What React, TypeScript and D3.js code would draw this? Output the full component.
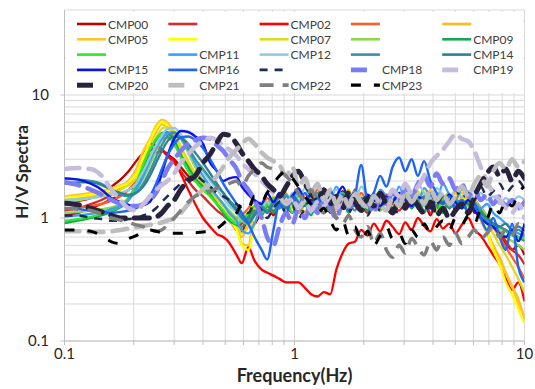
import React from 'react';
import * as d3 from 'd3';

// frequency samples shared by all stations (Hz)
const FREQ = [0.1, 0.115, 0.13, 0.145, 0.16, 0.175, 0.19, 0.205, 0.22, 0.235, 0.25, 0.265, 0.28, 0.3, 0.32, 0.345, 0.37, 0.4, 0.43, 0.46,
  0.49, 0.52, 0.56, 0.59, 0.63, 0.67, 0.72, 0.76, 0.81, 0.86, 0.92, 0.98, 1.04, 1.11, 1.18, 1.26, 1.34, 1.43, 1.52, 1.62,
  1.72, 1.83, 1.95, 2.08, 2.21, 2.36, 2.51, 2.67, 2.85, 3.03, 3.23, 3.44, 3.66, 3.9, 4.15, 4.42, 4.71, 5.01, 5.34, 5.69,
  6.06, 6.45, 6.87, 7.31, 7.79, 8.29, 8.83, 9.4, 10];

// H/V ratios per station
const CMP00 = [1.3, 1.38, 1.45, 1.6, 1.8, 2.05, 2.4, 2.9, 3.4, 4.0, 3.9, 3.6, 3.3, 3.0, 2.6, 2.2, 2.0, 1.85, 1.6, 1.4,
  1.2, 1.0, 0.8, 0.78, 1.0, 0.9, 1.15, 1.3,
  1.05, 1.4, 1.2, 1.55, 1.1, 1.35, 1.6, 1.2, 1.45, 1.1, 1.3, 1.65, 1.25, 1.5, 1.15, 1.4, 1.2, 1.55, 1.3, 1.1,
  1.45, 1.25, 1.6, 1.2, 1.35, 1.05, 1.4, 1.25, 1.5, 1.15, 1.3, 1.45, 1.1,
  1.2, 1.0, 0.85, 0.75, 0.62, 0.55, 0.6, 0.5];
const CMP01 = [1.15, 1.2, 1.3, 1.4, 1.55, 1.75, 2.0, 2.4, 2.9, 3.5, 3.7, 3.6, 3.2, 2.8, 2.4, 2.0, 1.7, 1.5, 1.3, 1.15,
  1.05, 0.95, 0.85, 0.9, 1.05, 1.2, 1.1, 1.3,
  1.15, 1.5, 1.25, 1.1, 1.4, 1.3, 1.6, 1.2, 1.35, 1.5, 1.15, 1.4, 1.25, 1.7, 1.3, 1.1, 1.45, 1.2, 1.55, 1.3,
  1.15, 1.4, 1.6, 1.25, 1.45, 1.1, 1.35, 1.5, 1.2, 1.4, 1.3, 1.15, 1.35,
  1.1, 0.95, 0.85, 0.75, 0.65, 0.55, 0.5, 0.42];
const CMP02 = [1.05, 1.1, 1.2, 1.3, 1.42, 1.55, 1.7, 1.85, 2.3, 3.2, 3.4, 3.5, 3.2, 2.9, 2.3, 1.7, 1.3, 1.0, 0.85, 0.74,
  0.7, 0.63, 0.5, 0.43, 0.58, 0.45, 0.38, 0.36, 0.34, 0.32, 0.3, 0.3, 0.3, 0.27, 0.24, 0.23, 0.25, 0.24, 0.38, 0.52,
  0.62, 0.64, 0.8, 0.72, 0.9, 0.78, 0.95, 0.85, 0.74, 0.92, 0.8, 1.0, 0.86, 0.78, 0.98, 0.82, 0.9, 0.75, 0.88, 1.0,
  0.8, 0.72, 0.6, 0.5, 0.42, 0.32, 0.26, 0.3, 0.21];
const CMP03 = [1.2, 1.22, 1.25, 1.3, 1.38, 1.5, 1.7, 2.0, 2.5, 3.1, 3.8, 4.3, 4.5, 4.2, 3.5, 2.8, 2.3, 1.9, 1.6, 1.4,
  1.25, 1.1, 1.0, 1.05, 1.2, 1.35, 1.2, 1.45,
  1.3, 1.6, 1.25, 1.45, 1.15, 1.5, 1.35, 1.7, 1.3, 1.45, 1.2, 1.55, 1.4, 1.25, 1.6, 1.35, 1.5, 1.2, 1.4, 1.65,
  1.3, 1.5, 1.25, 1.45, 1.6, 1.3, 1.4, 1.2, 1.55, 1.35, 1.5, 1.25, 1.4,
  1.2, 1.0, 0.85, 0.7, 0.58, 0.48, 0.4, 0.32];
const CMP04 = [1.4, 1.45, 1.5, 1.55, 1.6, 1.7, 1.9, 2.3, 3.0, 4.0, 5.0, 5.8, 5.5, 4.6, 3.6, 2.8, 2.2, 1.8, 1.5, 1.3,
  1.1, 0.95, 0.8, 0.7, 0.9, 1.1, 1.3, 1.15,
  1.4, 1.2, 1.55, 1.3, 1.1, 1.45, 1.25, 1.6, 1.35, 1.15, 1.5, 1.3, 1.7, 1.25, 1.45, 1.2, 1.6, 1.35, 1.5, 1.15,
  1.4, 1.3, 1.65, 1.2, 1.45, 1.35, 1.55, 1.25, 1.4, 1.6, 1.3, 1.45, 1.2,
  1.0, 0.8, 0.6, 0.48, 0.36, 0.28, 0.22, 0.15];
const CMP05 = [1.5, 1.55, 1.6, 1.65, 1.75, 1.85, 2.0, 2.5, 3.5, 4.4, 5.6, 6.3, 6.0, 5.0, 3.8, 2.8, 2.1, 1.8, 1.6, 1.45,
  1.3, 1.1, 0.85, 0.62, 0.6, 1.2, 1.35, 1.15,
  1.45, 1.25, 1.6, 1.2, 1.4, 1.1, 1.5, 1.3, 1.75, 1.35, 1.15, 1.5, 1.25, 1.6, 1.4, 1.2, 1.55, 1.3, 1.45, 1.65,
  1.25, 1.4, 1.2, 1.55, 1.35, 1.7, 1.3, 1.5, 1.25, 1.45, 1.6, 1.35, 1.2,
  0.95, 0.75, 0.55, 0.45, 0.35, 0.28, 0.2, 0.16];
const CMP06 = [1.45, 1.5, 1.55, 1.6, 1.7, 1.8, 1.95, 2.3, 3.1, 4.2, 5.3, 6.0, 5.6, 4.6, 3.5, 2.6, 2.0, 1.7, 1.5, 1.35,
  1.2, 1.0, 0.8, 0.6, 0.55, 0.9, 1.25, 1.1,
  1.35, 1.2, 1.5, 1.3, 1.15, 1.45, 1.6, 1.3, 1.4, 1.2, 1.55, 1.35, 1.25, 1.65, 1.4, 1.5, 1.2, 1.45, 1.3, 1.6,
  1.35, 1.25, 1.5, 1.4, 1.7, 1.3, 1.45, 1.2, 1.5, 1.35, 1.55, 1.25, 1.4,
  1.1, 0.8, 0.55, 0.42, 0.3, 0.24, 0.18, 0.14];
const CMP07 = [1.35, 1.4, 1.45, 1.5, 1.6, 1.7, 1.85, 2.1, 2.7, 3.5, 4.5, 5.3, 5.5, 4.8, 3.8, 2.9, 2.3, 1.9, 1.6, 1.4,
  1.25, 1.1, 0.9, 0.75, 0.85, 1.1, 1.3, 1.2,
  1.5, 1.3, 1.4, 1.2, 1.6, 1.35, 1.15, 1.45, 1.3, 1.55, 1.25, 1.4, 1.7, 1.3, 1.5, 1.2, 1.45, 1.6, 1.35, 1.25,
  1.5, 1.4, 1.3, 1.65, 1.35, 1.5, 1.2, 1.45, 1.6, 1.3, 1.4, 1.55, 1.3,
  1.1, 0.9, 0.75, 0.6, 0.5, 0.4, 0.32, 0.25];
const CMP08 = [1.1, 1.12, 1.15, 1.18, 1.22, 1.3, 1.45, 1.7, 2.1, 2.7, 3.5, 4.3, 4.9, 5.0, 4.4, 3.4, 2.6, 2.0, 1.7, 1.5,
  1.3, 1.15, 1.0, 0.95, 1.1, 1.25, 1.15, 1.35,
  1.2, 1.45, 1.3, 1.55, 1.25, 1.4, 1.15, 1.5, 1.35, 1.6, 1.3, 1.45, 1.2, 1.5, 1.4, 1.25, 1.55, 1.3, 1.45, 1.2,
  1.4, 1.6, 1.3, 1.5, 1.25, 1.45, 1.35, 1.2, 1.5, 1.3, 1.4, 1.25, 1.35,
  1.2, 1.05, 0.9, 0.8, 0.7, 0.65, 0.6, 0.55];
const CMP09 = [0.91, 0.95, 1.0, 1.05, 1.12, 1.22, 1.4, 1.8, 2.6, 3.5, 4.3, 4.9, 5.0, 4.3, 3.3, 2.6, 2.1, 1.8, 1.55, 1.3,
  1.1, 0.95, 0.88, 0.85, 1.0, 1.15, 1.05, 1.25,
  1.1, 1.35, 1.2, 1.5, 1.15, 1.3, 1.05, 1.4, 1.25, 1.55, 1.2, 1.35, 1.1, 1.45, 1.3, 1.15, 1.5, 1.25, 1.4, 1.1,
  1.3, 1.5, 1.2, 1.4, 1.15, 1.35, 1.25, 1.1, 1.4, 1.2, 1.35, 1.15, 1.3,
  1.15, 1.0, 0.9, 0.85, 0.8, 0.75, 0.7, 0.65];
const CMP10 = [0.95, 0.98, 1.02, 1.08, 1.15, 1.25, 1.45, 1.9, 2.7, 3.6, 4.4, 4.8, 4.7, 4.0, 3.1, 2.4, 2.0, 1.7, 1.5, 1.3,
  1.15, 1.0, 0.9, 0.95, 1.1, 1.25, 1.1, 1.3,
  1.45, 1.2, 1.35, 1.1, 1.5, 1.3, 1.2, 1.45, 1.35, 1.15, 1.4, 1.6, 1.25, 1.4, 1.2, 1.5, 1.3, 1.15, 1.45, 1.35,
  1.55, 1.2, 1.4, 1.25, 1.5, 1.3, 1.1, 1.4, 1.25, 1.45, 1.2, 1.35, 1.25,
  1.1, 0.95, 0.9, 0.85, 0.78, 0.72, 0.7, 0.68];
const CMP11 = [1.02, 1.05, 1.08, 1.12, 1.18, 1.25, 1.4, 1.7, 2.2, 2.9, 3.7, 4.4, 4.9, 5.0, 4.5, 3.6, 2.8, 2.2, 1.8, 1.5,
  1.3, 1.1, 0.95, 0.8, 0.75, 0.9, 1.2, 1.1,
  1.4, 1.25, 1.55, 1.3, 1.7, 1.35, 1.5, 1.2, 1.6, 1.4, 1.8, 1.45, 1.3, 1.65, 1.4, 1.55, 1.25, 1.7, 1.5, 1.35,
  1.8, 1.45, 1.6, 1.3, 1.75, 1.5, 1.4, 1.9, 1.55, 1.4, 1.7, 1.5, 1.35,
  1.2, 1.3, 1.1, 1.0, 0.9, 0.8, 0.75, 0.7];
const CMP12 = [1.4, 1.42, 1.45, 1.5, 1.55, 1.6, 1.7, 1.9, 2.4, 3.1, 3.9, 4.7, 5.3, 5.4, 4.8, 3.9, 3.0, 2.4, 2.0, 1.7,
  1.45, 1.25, 1.1, 0.95, 0.9, 1.05, 1.2, 1.35,
  1.2, 1.45, 1.3, 1.6, 1.4, 1.75, 1.35, 1.55, 1.3, 1.5, 1.7, 1.4, 1.6, 1.35, 1.8, 1.5, 1.4, 1.65, 1.45, 1.55,
  1.35, 1.7, 1.5, 1.9, 1.6, 1.45, 1.75, 1.55, 1.4, 1.7, 1.5, 1.65, 1.45,
  1.6, 1.4, 1.5, 1.3, 1.45, 1.35, 1.5, 1.4];
const CMP13 = [2.1, 2.05, 2.0, 1.9, 1.7, 1.55, 1.5, 1.6, 1.9, 2.4, 3.1, 3.9, 4.6, 4.9, 4.5, 3.7, 3.0, 2.5, 2.1, 1.8,
  1.6, 1.4, 1.2, 1.05, 0.95, 1.1, 1.25, 1.15,
  1.35, 1.2, 1.5, 1.3, 1.15, 1.45, 1.25, 1.6, 1.3, 1.4, 1.2, 1.5, 1.35, 1.15, 1.45, 1.3, 1.55, 1.25, 1.4, 1.2,
  1.35, 1.5, 1.25, 1.45, 1.1, 1.35, 1.25, 1.5, 1.2, 1.4, 1.3, 1.15, 1.25,
  1.05, 0.95, 0.9, 0.85, 0.8, 0.75, 0.8, 0.72];
const CMP14 = [1.9, 1.95, 1.95, 1.85, 1.7, 1.6, 1.55, 1.6, 1.8, 2.2, 2.8, 3.5, 4.2, 4.6, 4.5, 4.0, 3.4, 2.8, 2.3, 1.9,
  1.6, 1.35, 1.15, 1.0, 0.9, 1.05, 1.2, 1.1,
  1.3, 1.45, 1.2, 1.55, 1.35, 1.25, 1.5, 1.3, 1.65, 1.2, 1.4, 1.3, 1.55, 1.25, 1.45, 1.35, 1.2, 1.5, 1.3, 1.4,
  1.6, 1.25, 1.45, 1.3, 1.5, 1.2, 1.4, 1.35, 1.55, 1.25, 1.4, 1.3, 1.2,
  1.1, 1.0, 0.9, 0.85, 0.9, 0.8, 0.85, 0.78];
const CMP15 = [2.1, 2.05, 1.9, 1.7, 1.45, 1.35, 1.28, 1.25, 1.27, 1.35, 1.7, 2.3, 3.2, 4.4, 5.1, 5.0, 4.6, 4.0, 2.8, 2.4,
  2.0, 2.1, 2.15, 1.8, 1.55, 1.4, 1.3, 1.6,
  1.35, 1.6, 1.3, 1.5, 1.75, 1.4, 1.55, 1.3, 1.65, 1.4, 1.5, 1.8, 1.45, 1.6, 1.35, 1.55, 1.4, 1.25, 1.5, 1.35,
  1.6, 1.4, 1.25, 1.5, 1.35, 1.2, 1.45, 1.3, 1.55, 1.35, 1.2, 1.4, 1.15,
  1.0, 0.9, 0.85, 0.75, 0.7, 0.8, 0.65, 0.9];
const CMP16 = [1.2, 1.18, 1.15, 1.12, 1.1, 1.12, 1.15, 1.2, 1.3, 1.5, 1.9, 2.5, 3.2, 4.0, 4.5, 4.6, 4.3, 3.7, 3.0, 2.4,
  1.9, 1.6, 1.3, 1.1, 0.9, 0.7, 0.55, 0.46,
  0.8, 1.3, 1.1, 1.5, 1.25, 1.6, 1.3, 1.45, 1.2, 1.7, 1.3, 1.55,
  1.15, 1.5, 2.7, 1.4, 1.6, 2.2, 1.8, 2.6, 3.1, 2.4, 3.0, 2.2, 2.9, 2.0, 1.6, 1.3, 1.5, 1.2, 1.4, 1.1,
  1.3, 1.0, 0.8, 1.0, 0.7, 0.55, 0.9, 0.4, 0.3];
const CMP17 = [1.05, 1.05, 1.0, 0.98, 0.95, 0.95, 0.98, 1.0, 1.05, 1.1, 1.2, 1.35, 1.5, 1.7, 1.9, 2.1, 2.2, 2.0, 1.8, 1.6,
  1.5, 1.4, 1.3, 1.2, 1.1, 1.3, 1.15, 1.0, 1.2, 1.35, 1.1, 1.25, 1.0, 1.2, 1.4, 1.1, 1.3, 1.15, 1.0, 1.25,
  1.1, 1.35, 1.2, 1.05, 1.3, 1.15, 1.4, 1.2, 1.1, 1.3, 1.5, 1.25, 1.4, 1.6, 1.3, 1.5, 1.35, 1.7, 1.45, 1.6,
  1.4, 1.8, 1.5, 1.65, 1.9, 1.6, 1.8, 2.0, 1.7];
const CMP18 = [1.95, 1.85, 1.7, 1.55, 1.4, 1.3, 1.25, 1.25, 1.3, 1.4, 1.6, 2.0, 2.5, 3.0, 3.5, 4.0, 4.3, 4.5, 4.4, 3.9,
  3.5, 3.0, 2.5, 2.0, 1.7, 1.4, 1.0, 0.7, 0.6, 0.85, 1.1, 0.9, 1.2, 1.0, 1.3, 1.1, 1.4, 1.2, 1.0, 1.3,
  1.15, 1.45, 1.2, 1.35, 1.1, 1.5, 1.3, 1.6, 1.4, 1.75, 1.5, 1.9, 2.2, 1.8, 2.3, 1.9, 2.1, 1.7, 1.9, 1.5,
  1.7, 1.4, 1.55, 1.3, 1.5, 1.25, 1.4, 1.2, 1.35];
const CMP19 = [2.5, 2.55, 2.5, 2.2, 1.7, 1.4, 1.2, 1.15, 1.3, 1.5, 1.7, 1.85, 2.0, 2.3, 2.8, 3.3, 3.8, 4.2, 4.5, 4.3,
  3.9, 3.6, 3.2, 2.8, 2.5, 2.3, 2.0, 1.8, 1.6, 1.5, 1.3, 1.45, 1.2, 1.4, 1.15, 1.35, 1.25, 1.5, 1.2, 1.4,
  1.3, 1.55, 1.25, 1.45, 1.3, 1.6, 1.35, 1.7, 1.5, 1.9, 1.6, 1.8, 2.2, 2.8, 3.2, 3.6, 4.2, 4.8, 4.4, 4.2,
  3.5, 2.6, 2.0, 1.6, 1.4, 1.2, 1.1, 1.3, 1.0];
const CMP20 = [1.32, 1.28, 1.2, 1.12, 1.05, 1.0, 1.0, 1.0, 1.0, 1.0, 1.02, 1.1, 1.25, 1.4, 1.7, 2.0, 2.2, 2.8, 3.3, 4.1,
  4.8, 4.7, 4.0, 3.4, 2.9, 2.5, 2.2, 1.9, 1.7, 1.5, 1.8, 2.2, 2.4, 1.9, 1.6, 1.4, 1.7, 1.3, 1.5, 1.2,
  1.6, 1.35, 1.15, 1.45, 1.25, 1.6, 1.3, 1.1, 1.4, 1.2, 1.5, 1.25, 1.1, 1.35, 1.05, 1.2, 1.0, 1.15, 1.3, 1.1,
  1.5, 1.9, 2.3, 2.6, 2.2, 2.5, 2.0, 2.4, 2.1];
const CMP21 = [0.78, 0.78, 0.77, 0.77, 0.78, 0.8, 0.82, 0.84, 0.86, 0.88, 0.9, 0.92, 0.95, 1.0, 1.1, 1.3, 1.5, 1.7, 1.9, 2.2,
  2.6, 3.1, 3.6, 4.0, 4.4, 4.0, 3.4, 3.1, 2.9, 2.7, 2.2, 2.6, 1.8, 2.1, 1.6, 1.9, 1.4, 1.7, 1.3, 1.55,
  1.25, 1.6, 1.35, 1.2, 1.5, 1.3, 1.15, 1.45, 1.25, 1.6, 1.35, 1.55, 1.3, 1.7, 1.4, 1.6, 1.3, 1.5, 1.8, 1.5,
  1.9, 2.2, 1.8, 2.4, 2.8, 2.5, 3.0, 2.6, 2.9];
const CMP22 = [1.2, 1.18, 1.15, 1.08, 1.0, 0.96, 0.92, 0.88, 0.85, 0.8, 0.78, 0.8, 0.88, 1.0, 1.15, 1.35, 1.5, 1.6, 1.65, 1.75,
  1.8, 1.9, 2.0, 1.8, 2.2, 2.5, 2.8, 2.6, 2.5, 2.4, 2.2, 1.9, 1.6, 1.4, 1.7, 1.3, 1.1, 1.3, 1.0, 0.9,
  1.05, 0.8, 0.7, 0.85, 0.62, 0.75, 0.55, 0.48, 0.6, 0.52, 0.68, 0.58, 0.5, 0.65, 0.55, 0.7, 0.6, 0.75, 0.62, 0.7,
  0.8, 0.68, 0.75, 0.85, 0.7, 0.8, 0.72, 0.9, 0.78];
const CMP23 = [0.8, 0.8, 0.78, 0.72, 0.64, 0.62, 0.68, 0.72, 0.78, 0.8, 0.78, 0.76, 0.75, 0.75, 0.75, 0.76, 0.76, 0.77, 0.78, 0.82,
  0.9, 1.0, 1.1, 1.3, 1.2, 1.5, 1.35, 1.6, 1.9, 2.2, 2.4, 2.1, 1.8, 1.5, 1.3, 1.1, 1.2, 0.95, 0.8, 0.95,
  0.72, 0.85, 0.65, 0.78, 0.6, 0.72, 0.85, 0.68, 0.75, 0.62, 0.8, 0.7, 0.9, 0.75, 0.85, 0.95, 0.8, 1.0, 0.88, 1.05,
  0.9, 1.15, 1.0, 1.3, 1.1, 1.4, 1.25, 1.6, 1.8];

const X_LABELS = [0.1, 1, 10];
const Y_LABELS = [0.1, 1, 10];

// series styling; label=false where the original legend shows no text
const SERIES = [
  {name: 'CMP00', values: CMP00, color: '#C00000', width: 2.3, label: true},
  {name: 'CMP01', values: CMP01, color: '#D42A2A', width: 2.3, label: false},
  {name: 'CMP02', values: CMP02, color: '#FF0000', width: 2.3, label: true},
  {name: 'CMP03', values: CMP03, color: '#FF5B24', width: 2.3, label: false},
  {name: 'CMP04', values: CMP04, color: '#FFBA1A', width: 2.3, label: false},
  {name: 'CMP05', values: CMP05, color: '#FFC52E', width: 2.3, label: true},
  {name: 'CMP06', values: CMP06, color: '#FFFF00', width: 2.3, label: false},
  {name: 'CMP07', values: CMP07, color: '#DCDC1E', width: 2.3, label: true},
  {name: 'CMP08', values: CMP08, color: '#8ED64A', width: 2.3, label: false},
  {name: 'CMP09', values: CMP09, color: '#14A850', width: 2.3, label: true},
  {name: 'CMP10', values: CMP10, color: '#2EE62E', width: 2.3, label: false},
  {name: 'CMP11', values: CMP11, color: '#3A9EFF', width: 2.3, label: true},
  {name: 'CMP12', values: CMP12, color: '#8FCAE0', width: 2.3, label: true},
  {name: 'CMP13', values: CMP13, color: '#3A8FA0', width: 2.3, label: false},
  {name: 'CMP14', values: CMP14, color: '#2C8193', width: 2.3, label: true},
  {name: 'CMP15', values: CMP15, color: '#0A14E6', width: 2.4, label: true},
  {name: 'CMP16', values: CMP16, color: '#1E64F5', width: 2.4, label: true},
  {name: 'CMP17', values: CMP17, color: '#1F2A55', width: 2.5, dash: '8,7', label: false},
  {name: 'CMP18', values: CMP18, color: '#7B7BF5', width: 4.5, dash: '15,9', legendDash: '16,30', label: true},
  {name: 'CMP19', values: CMP19, color: '#C6BDDC', width: 4.5, dash: '15,9', legendDash: '16,30', label: true},
  {name: 'CMP20', values: CMP20, color: '#28223C', width: 5, dash: '15,9', legendDash: '16,30', label: true},
  {name: 'CMP21', values: CMP21, color: '#BDBDBD', width: 4.5, dash: '15,9', legendDash: '16,30', label: true},
  {name: 'CMP22', values: CMP22, color: '#7F7F7F', width: 3.5, dash: '14,9', label: true},
  {name: 'CMP23', values: CMP23, color: '#000000', width: 3, dash: '10,13', label: true},
];

const W = 535;
const H = 389;
const left = 64.5, right = 524.5, top = 10, bottom = 341;

const App = () => {
  const x = d3.scaleLog().domain([0.1, 10]).range([left, right]);
  const y = d3.scaleLog().domain([0.1, 10]).range([bottom, 95]);

  const xGrid = x.ticks();
  // gridlines continue above 10 up to the plot top (hidden mostly by legend)
  const yGrid = d3.scaleLog().domain([0.1, 40]).ticks();

  const line = d3.line<number>()
    .x((d, i) => x(FREQ[i]))
    .y(d => y(d))
    .curve(d3.curveMonotoneX);

  const font = 'Lato, "Open Sans", sans-serif';

  return (
    <svg width={W} height={H} style={{position: 'absolute', left: 0, top: 0, background: '#fff'}}>
      <defs>
        <clipPath id='plot-clip'>
          <rect x={left} y={top} width={right - left} height={bottom - top}/>
        </clipPath>
      </defs>
      <rect x={0} y={0} width={W} height={H} fill='#fff'/>

      {/* grid */}
      <g stroke='#D9D9D9' strokeWidth={1}>
        {yGrid.map(v => (
          <line key={'gy' + v} x1={left} x2={right} y1={y(v)} y2={y(v)}/>
        ))}
        {xGrid.map(v => (
          <line key={'gx' + v} x1={x(v)} x2={x(v)} y1={top} y2={bottom}/>
        ))}
        <line x1={left} x2={right} y1={top} y2={top}/>
      </g>

      {/* axes */}
      <g stroke='#BFBFBF' strokeWidth={1}>
        <line x1={left} x2={left} y1={top} y2={bottom}/>
        <line x1={left} x2={right} y1={bottom} y2={bottom}/>
        {xGrid.map(v => (
          <line key={'tx' + v} x1={x(v)} x2={x(v)} y1={bottom} y2={bottom + 4}/>
        ))}
        {Y_LABELS.map(v => (
          <line key={'ty' + v} x1={left - 4} x2={left} y1={y(v)} y2={y(v)}/>
        ))}
      </g>

      {/* series */}
      <g clipPath='url(#plot-clip)' fill='none'>
        {SERIES.map(s => (
          <path key={s.name} d={line(s.values) || ''} stroke={s.color} strokeWidth={s.width}
            strokeDasharray={s.dash} strokeLinejoin='round'
            strokeLinecap={s.width > 4 ? 'round' : 'butt'}/>
        ))}
      </g>

      {/* legend */}
      <rect x={66} y={12} width={457} height={81} fill='#fff'/>
      <g fontFamily={font} fontSize={12} fill='#404040'>
        {SERIES.map((s, i) => {
          const cx = 77 + (i % 5) * 91.3;
          const cy = 24 + Math.floor(i / 5) * 15.3;
          return (
            <g key={'lg' + s.name}>
              <line x1={cx} x2={cx + 29} y1={cy} y2={cy} stroke={s.color}
                strokeWidth={Math.min(s.width + 0.3, 5)}
                strokeDasharray={s.legendDash || s.dash}/>
              {s.label && <text x={cx + 31} y={cy + 4.5}>{s.name}</text>}
            </g>
          );
        })}
      </g>

      {/* tick labels */}
      <g fontFamily={font} fontSize={15} fill='#262626'>
        {Y_LABELS.map(v => (
          <text key={'yl' + v} x={49} y={y(v) + 5} textAnchor='end'>{v}</text>
        ))}
        {X_LABELS.map(v => (
          <text key={'xl' + v} x={x(v)} y={359} textAnchor='middle'>{v}</text>
        ))}
      </g>

      {/* axis titles */}
      <text x={294.5} y={382} textAnchor='middle' fontFamily={font} fontWeight='bold'
        fontSize={18} fill='#262626'>Frequency(Hz)</text>
      <text transform='translate(28,172) rotate(-90)' textAnchor='middle' fontFamily={font}
        fontWeight='bold' fontSize={17} fill='#262626'>H/V Spectra</text>
    </svg>
  );
};

export default App;
